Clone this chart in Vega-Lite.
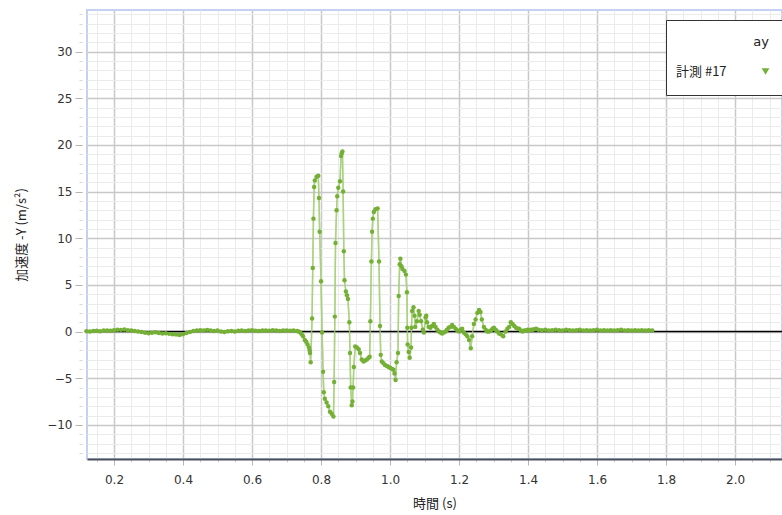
{
  "$schema": "https://vega.github.io/schema/vega-lite/v6.json",
  "width": 695,
  "height": 449,
  "autosize": {"type": "none"},
  "padding": {"left": 87, "top": 10, "right": 0, "bottom": 56},
  "background": "white",
  "config": {
    "view": {"stroke": "#c5d1f3", "strokeWidth": 2},
    "font": "DejaVu Sans, Noto Sans CJK JP",
    "axis": {"labelFont": "DejaVu Sans", "labelFontSize": 12, "labelColor": "#333", "titleFont": "Noto Sans CJK JP, DejaVu Sans", "titleFontSize": 13, "titleFontWeight": "normal", "titleColor": "#222"}
  },
  "data": {"values": [
    {"t":0.12,"a":0.02},{"t":0.13,"a":0.0},{"t":0.14,"a":0.05},{"t":0.15,"a":0.08},{"t":0.16,"a":0.03},{"t":0.17,"a":0.1},{"t":0.18,"a":0.12},{"t":0.19,"a":0.08},{"t":0.20,"a":0.15},{"t":0.21,"a":0.2},
    {"t":0.22,"a":0.18},{"t":0.23,"a":0.22},{"t":0.24,"a":0.15},{"t":0.25,"a":0.1},{"t":0.26,"a":0.05},{"t":0.27,"a":0.0},{"t":0.28,"a":-0.05},{"t":0.29,"a":-0.12},{"t":0.30,"a":-0.18},{"t":0.31,"a":-0.12},
    {"t":0.32,"a":-0.08},{"t":0.33,"a":-0.15},{"t":0.34,"a":-0.2},{"t":0.35,"a":-0.18},{"t":0.36,"a":-0.25},{"t":0.37,"a":-0.3},{"t":0.38,"a":-0.32},{"t":0.39,"a":-0.38},{"t":0.40,"a":-0.3},{"t":0.41,"a":-0.15},
    {"t":0.42,"a":-0.05},{"t":0.43,"a":0.05},{"t":0.44,"a":0.1},{"t":0.45,"a":0.15},{"t":0.46,"a":0.12},{"t":0.47,"a":0.18},{"t":0.48,"a":0.1},{"t":0.49,"a":0.05},{"t":0.50,"a":0.1},{"t":0.51,"a":0.0},
    {"t":0.52,"a":-0.05},{"t":0.53,"a":0.02},{"t":0.54,"a":0.05},{"t":0.55,"a":0.0},{"t":0.56,"a":0.08},{"t":0.57,"a":0.12},{"t":0.58,"a":0.05},{"t":0.59,"a":0.1},{"t":0.60,"a":0.15},{"t":0.61,"a":0.08},
    {"t":0.62,"a":0.05},{"t":0.63,"a":0.1},{"t":0.64,"a":0.12},{"t":0.65,"a":0.08},{"t":0.66,"a":0.15},{"t":0.67,"a":0.1},{"t":0.68,"a":0.05},{"t":0.69,"a":0.1},{"t":0.70,"a":0.12},{"t":0.71,"a":0.08},
    {"t":0.72,"a":0.1},{"t":0.73,"a":0.05},{"t":0.735,"a":0.0},
    {"t":0.740,"a":-0.1},{"t":0.744,"a":-0.3},{"t":0.748,"a":-0.5},{"t":0.753,"a":-0.9},{"t":0.757,"a":-1.1},{"t":0.761,"a":-1.4},{"t":0.765,"a":-1.7},{"t":0.767,"a":-2.0},{"t":0.768,"a":-2.3},{"t":0.770,"a":-3.3},
    {"t":0.774,"a":1.4},{"t":0.776,"a":6.8},{"t":0.778,"a":12.1},{"t":0.780,"a":15.5},{"t":0.782,"a":16.2},{"t":0.787,"a":16.6},{"t":0.792,"a":16.7},{"t":0.794,"a":14.3},{"t":0.796,"a":10.7},{"t":0.800,"a":5.4},
    {"t":0.803,"a":-0.1},{"t":0.806,"a":-4.3},{"t":0.808,"a":-6.5},{"t":0.811,"a":-7.2},{"t":0.816,"a":-7.6},{"t":0.821,"a":-8.0},{"t":0.826,"a":-8.6},{"t":0.831,"a":-8.8},{"t":0.836,"a":-9.1},{"t":0.838,"a":-5.4},
    {"t":0.840,"a":1.6},{"t":0.842,"a":9.5},{"t":0.845,"a":13.0},{"t":0.847,"a":14.5},{"t":0.850,"a":15.4},{"t":0.855,"a":16.1},{"t":0.858,"a":18.8},{"t":0.860,"a":19.1},{"t":0.862,"a":19.3},{"t":0.864,"a":15.0},
    {"t":0.866,"a":8.6},{"t":0.868,"a":5.5},{"t":0.872,"a":4.3},{"t":0.875,"a":3.9},{"t":0.878,"a":3.5},{"t":0.882,"a":1.0},{"t":0.884,"a":-2.3},{"t":0.886,"a":-6.0},{"t":0.889,"a":-7.9},{"t":0.891,"a":-7.5},
    {"t":0.893,"a":-6.0},{"t":0.895,"a":-3.8},{"t":0.899,"a":-1.6},{"t":0.904,"a":-1.7},{"t":0.909,"a":-1.9},{"t":0.913,"a":-2.3},{"t":0.918,"a":-3.0},{"t":0.923,"a":-3.2},{"t":0.928,"a":-3.1},{"t":0.933,"a":-3.0},
    {"t":0.938,"a":-2.8},{"t":0.941,"a":-2.7},{"t":0.943,"a":1.1},{"t":0.946,"a":7.5},{"t":0.948,"a":10.7},{"t":0.950,"a":12.1},{"t":0.953,"a":12.8},{"t":0.958,"a":13.1},{"t":0.964,"a":13.2},{"t":0.968,"a":7.5},
    {"t":0.971,"a":0.6},{"t":0.973,"a":-2.5},{"t":0.976,"a":-3.2},{"t":0.981,"a":-3.4},{"t":0.986,"a":-3.6},{"t":0.991,"a":-3.7},{"t":0.996,"a":-3.8},{"t":1.001,"a":-3.9},{"t":1.006,"a":-4.0},{"t":1.010,"a":-4.1},
    {"t":1.013,"a":-4.5},{"t":1.016,"a":-5.2},{"t":1.019,"a":-3.3},{"t":1.023,"a":-2.3},{"t":1.025,"a":3.8},{"t":1.028,"a":7.2},{"t":1.030,"a":7.8},{"t":1.033,"a":7.0},{"t":1.036,"a":6.7},{"t":1.042,"a":6.5},
    {"t":1.046,"a":6.1},{"t":1.049,"a":4.2},{"t":1.050,"a":0.4},{"t":1.051,"a":-1.4},{"t":1.054,"a":-2.2},{"t":1.057,"a":-2.8},{"t":1.061,"a":-1.7},{"t":1.062,"a":0.4},{"t":1.064,"a":2.2},{"t":1.068,"a":2.6},
    {"t":1.071,"a":1.7},{"t":1.073,"a":0.5},{"t":1.078,"a":1.1},{"t":1.083,"a":2.2},{"t":1.086,"a":1.8},{"t":1.090,"a":1.1},{"t":1.095,"a":0.2},{"t":1.098,"a":-0.1},{"t":1.103,"a":1.5},{"t":1.105,"a":1.7},
    {"t":1.107,"a":1.0},{"t":1.112,"a":0.5},{"t":1.117,"a":0.4},{"t":1.122,"a":0.6},{"t":1.127,"a":0.8},{"t":1.132,"a":0.5},{"t":1.137,"a":0.2},{"t":1.142,"a":0.0},{"t":1.146,"a":-0.1},{"t":1.151,"a":-0.2},
    {"t":1.156,"a":-0.1},{"t":1.161,"a":0.0},{"t":1.165,"a":0.2},{"t":1.170,"a":0.4},{"t":1.175,"a":0.5},{"t":1.180,"a":0.7},{"t":1.185,"a":0.5},{"t":1.190,"a":0.3},{"t":1.195,"a":0.1},{"t":1.200,"a":0.0},
    {"t":1.205,"a":0.2},{"t":1.209,"a":0.3},{"t":1.214,"a":-0.1},{"t":1.219,"a":-0.3},{"t":1.224,"a":-0.5},{"t":1.229,"a":-0.9},{"t":1.234,"a":-1.8},{"t":1.238,"a":-0.5},{"t":1.243,"a":0.8},{"t":1.248,"a":1.3},
    {"t":1.253,"a":2.0},{"t":1.258,"a":2.3},{"t":1.262,"a":2.1},{"t":1.266,"a":1.3},{"t":1.272,"a":0.5},{"t":1.277,"a":0.2},{"t":1.282,"a":0.0},{"t":1.287,"a":0.0},{"t":1.292,"a":0.1},{"t":1.297,"a":0.3},
    {"t":1.301,"a":0.4},{"t":1.306,"a":0.2},{"t":1.311,"a":0.0},{"t":1.316,"a":-0.2},{"t":1.321,"a":-0.3},{"t":1.328,"a":-0.5},{"t":1.335,"a":0.0},{"t":1.340,"a":0.3},{"t":1.345,"a":0.5},{"t":1.350,"a":1.0},
    {"t":1.355,"a":0.8},{"t":1.360,"a":0.6},{"t":1.365,"a":0.4},{"t":1.370,"a":0.3},{"t":1.374,"a":0.3},{"t":1.379,"a":0.1},{"t":1.384,"a":0.0},{"t":1.389,"a":0.1},{"t":1.394,"a":0.1},{"t":1.399,"a":0.2},
    {"t":1.403,"a":0.1},{"t":1.408,"a":0.2},{"t":1.413,"a":0.2},{"t":1.418,"a":0.25},{"t":1.423,"a":0.3},
    {"t":1.43,"a":0.2},{"t":1.44,"a":0.15},{"t":1.45,"a":0.2},{"t":1.46,"a":0.1},{"t":1.47,"a":0.15},{"t":1.48,"a":0.2},{"t":1.49,"a":0.15},{"t":1.50,"a":0.1},{"t":1.51,"a":0.2},{"t":1.52,"a":0.15},
    {"t":1.53,"a":0.1},{"t":1.54,"a":0.15},{"t":1.55,"a":0.2},{"t":1.56,"a":0.1},{"t":1.57,"a":0.15},{"t":1.58,"a":0.1},{"t":1.59,"a":0.15},{"t":1.60,"a":0.2},{"t":1.61,"a":0.1},{"t":1.62,"a":0.15},
    {"t":1.63,"a":0.1},{"t":1.64,"a":0.15},{"t":1.65,"a":0.1},{"t":1.66,"a":0.15},{"t":1.67,"a":0.2},{"t":1.68,"a":0.1},{"t":1.69,"a":0.15},{"t":1.70,"a":0.1},{"t":1.71,"a":0.15},{"t":1.72,"a":0.1},
    {"t":1.73,"a":0.15},{"t":1.74,"a":0.1},{"t":1.75,"a":0.15},{"t":1.76,"a":0.1}
  ]},
  "resolve": {"axis": {"x": "independent", "y": "independent"}},
  "layer": [
    {
      "mark": {"type": "line", "color": "#a6d17a", "strokeWidth": 1.5, "opacity": 0.8},
      "encoding": {
        "x": {"field": "t", "type": "quantitative", "scale": {"domain": [0.1217, 2.136], "nice": false, "zero": false},
          "axis": {"orient": "bottom", "values": [0.15,0.2,0.25,0.3,0.35,0.4,0.45,0.5,0.55,0.6,0.65,0.7,0.75,0.8,0.85,0.9,0.95,1.0,1.05,1.1,1.15,1.2,1.25,1.3,1.35,1.4,1.45,1.5,1.55,1.6,1.65,1.7,1.75,1.8,1.85,1.9,1.95,2.0,2.05,2.1],
            "labels": false, "title": null, "domain": false, "ticks": true, "tickSize": 3, "tickColor": "#d0d0d0", "grid": true, "gridColor": "#ebebeb", "gridWidth": 1}},
        "y": {"field": "a", "type": "quantitative", "scale": {"domain": [-13.66, 34.46], "nice": false, "zero": false},
          "axis": {"orient": "left", "values": [-13,-12,-11,-10,-9,-8,-7,-6,-5,-4,-3,-2,-1,0,1,2,3,4,5,6,7,8,9,10,11,12,13,14,15,16,17,18,19,20,21,22,23,24,25,26,27,28,29,30,31,32,33,34],
            "labels": false, "title": null, "domain": false, "ticks": true, "tickSize": 3, "offset": 5, "tickColor": "#d8d8d8", "grid": true, "gridColor": "#ebebeb", "gridWidth": 1}}
      }
    },
    {
      "mark": {"type": "rule", "color": "#000", "strokeWidth": 1.5},
      "data": {"values": [{"z": 0}]},
      "encoding": {"y": {"field": "z", "type": "quantitative", "axis": null}}
    },
    {
      "mark": {"type": "line", "color": "#a6d17a", "strokeWidth": 1.5, "opacity": 0.8},
      "encoding": {
        "x": {"field": "t", "type": "quantitative", "axis": null},
        "y": {"field": "a", "type": "quantitative", "axis": null}
      }
    },
    {
      "mark": {"type": "point", "filled": true, "size": 20, "opacity": 1},
      "encoding": {
        "x": {"field": "t", "type": "quantitative",
          "axis": {"orient": "bottom", "values": [0.2,0.4,0.6,0.8,1.0,1.2,1.4,1.6,1.8,2.0], "format": ".1f", "title": "時間 (s)", "titlePadding": 12,
            "domain": true, "domainColor": "#4a505c", "domainWidth": 2, "ticks": true, "tickSize": 6, "tickColor": "#b5b5b5", "labelPadding": 9, "grid": true, "gridColor": "#c8c8c8", "gridWidth": 1.5}},
        "y": {"field": "a", "type": "quantitative",
          "axis": {"orient": "left", "values": [-10,-5,0,5,10,15,20,25,30], "title": "加速度 -Y (m/s²)", "titlePadding": 18, "offset": 5,
            "domain": false, "ticks": true, "tickSize": 7, "tickColor": "#b5b5b5", "labelPadding": 3, "grid": true, "gridColor": "#c8c8c8", "gridWidth": 1.5}},
        "color": {"datum": "計測 #17", "type": "nominal", "scale": {"range": ["#74b035"]},
          "legend": {"orient": "none", "legendX": 579, "legendY": 10, "title": "ay", "titleAnchor": "end", "titleFontSize": 13, "titleFontWeight": "normal", "titleFont": "DejaVu Sans", "titleColor": "#222", "titlePadding": 16,
            "symbolType": "triangle-down", "symbolSize": 60, "symbolOffset": 77, "labelOffset": -96, "labelFontSize": 13, "labelFont": "Noto Sans CJK JP, DejaVu Sans", "labelColor": "#222",
            "padding": 16, "strokeColor": "#333", "fillColor": "white", "cornerRadius": 0}}
      }
    }
  ]
}
